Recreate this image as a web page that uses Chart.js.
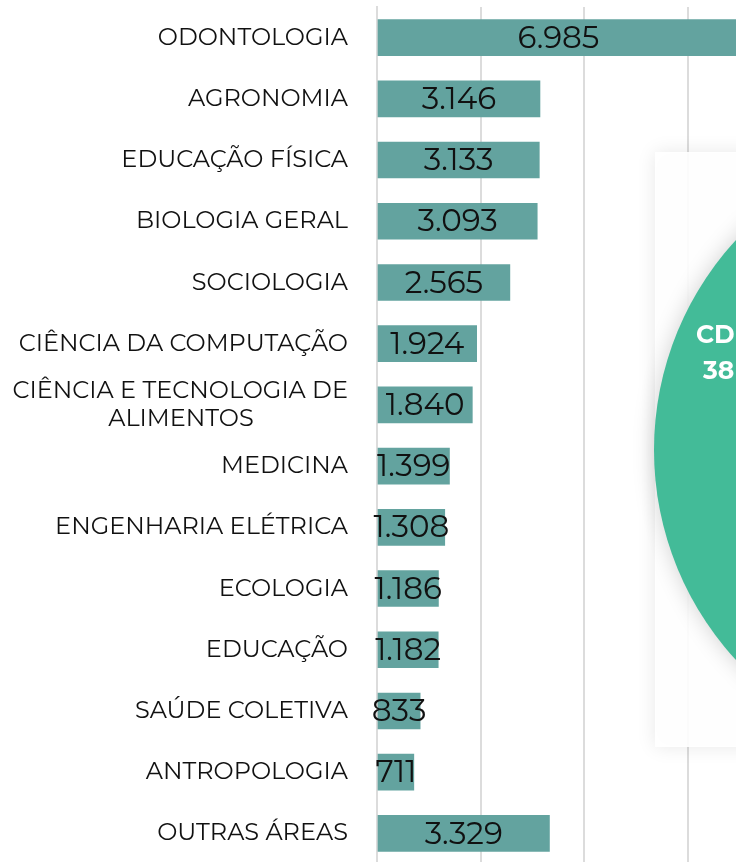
<!DOCTYPE html>
<html>
<head>
	<meta charset="utf-8">
	<title>Áreas</title>
	<style>
		html, body { margin: 0; padding: 0; background: #fff; overflow: hidden; }
		.wrap { position: relative; width: 736px; height: 864px; }
	</style>
</head>
<body>
	<div class="wrap"><canvas id="chart"></canvas></div>
	<script src="https://cdn.jsdelivr.net/npm/chart.js@4/dist/chart.umd.min.js"></script>
	<script>
		'use strict'

		const areas = [
			'ODONTOLOGIA', 'AGRONOMIA', 'EDUCAÇÃO FÍSICA', 'BIOLOGIA GERAL', 'SOCIOLOGIA',
			'CIÊNCIA DA COMPUTAÇÃO', ['CIÊNCIA E TECNOLOGIA DE', 'ALIMENTOS'], 'MEDICINA',
			'ENGENHARIA ELÉTRICA', 'ECOLOGIA', 'EDUCAÇÃO', 'SAÚDE COLETIVA', 'ANTROPOLOGIA', 'OUTRAS ÁREAS'
		]
		const totals = [6985, 3146, 3133, 3093, 2565, 1924, 1840, 1399, 1308, 1186, 1182, 833, 711, 3329]
		const xTicks = [0, 2000, 4000, 6000]
		const badgeLines = ['CD', '38']

		const barColor = '#63a39f'
		const gridColor = '#dcdcdc'
		const fontFam = "Montserrat, 'Open Sans', sans-serif"

		// "ALIMENTOS" is centred under the first line in the original
		const padLine = (s, n) => s + '\u00a0'.repeat(n)
		areas[6] = [areas[6][0], padLine(areas[6][1], 15)]

		const valueLabels = {
			id: 'valueLabels',
			afterDatasetsDraw(chart) {
				const ctx = chart.ctx
				const meta = chart.getDatasetMeta(0)
				ctx.save()
				ctx.font = '400 31px ' + fontFam
				ctx.fillStyle = '#111'
				ctx.textAlign = 'center'
				ctx.textBaseline = 'middle'
				meta.data.forEach((bar, i) => {
					const x = (bar.base + bar.x) / 2
					ctx.fillText(totals[i].toLocaleString('pt-BR'), x, bar.y + 1)
				})
				ctx.restore()
			}
		}

		// the green badge that sits over the right edge of the chart
		const badge = {
			id: 'badge',
			afterDraw(chart) {
				const ctx = chart.ctx
				ctx.save()
				ctx.shadowColor = 'rgba(0,0,0,0.10)'
				ctx.shadowBlur = 18
				ctx.fillStyle = 'rgba(255,255,255,0.92)'
				ctx.fillRect(655, 152, 200, 595)
				ctx.shadowColor = 'rgba(0,0,0,0.18)'
				ctx.shadowBlur = 22
				ctx.fillStyle = '#43bb98'
				ctx.beginPath()
				ctx.arc(964, 450, 310, 0, 2 * Math.PI)
				ctx.fill()
				ctx.shadowColor = 'transparent'
				ctx.fillStyle = '#fff'
				ctx.font = "700 25px " + fontFam
				ctx.textBaseline = 'middle'
				ctx.fillText(badgeLines[0], 696, 336)
				ctx.fillText(badgeLines[1], 703, 372)
				ctx.restore()
			}
		}

		new Chart(document.getElementById('chart'), {
			type: 'bar',
			data: {
				labels: areas,
				datasets: [{
					data: totals,
					backgroundColor: barColor,
					barThickness: 36
				}]
			},
			options: {
				indexAxis: 'y',
				responsive: true,
				maintainAspectRatio: false,
				animation: false,
				layout: { padding: { top: 7, left: 0, right: 0, bottom: 0 } },
				plugins: { legend: { display: false }, tooltip: { enabled: false } },
				scales: {
					x: {
						min: 0,
						max: 6930,
						afterBuildTicks: scale => { scale.ticks = xTicks.map(v => ({ value: v })) },
						afterFit: scale => {
							scale.height = 0
							scale.paddingLeft = 0
							scale.paddingRight = 0
						},
						ticks: { display: false },
						grid: { color: gridColor, lineWidth: 2, drawTicks: false },
						border: { display: false }
					},
					y: {
						afterFit: scale => {
							scale.width = 377
							scale.paddingTop = 0
							scale.paddingBottom = 0
						},
						ticks: {
							autoSkip: false,
							padding: 29,
							color: '#111',
							font: { family: fontFam, size: 24, weight: 400, lineHeight: 1.2 }
						},
						grid: { display: false, drawTicks: false },
						border: { color: gridColor, width: 2 }
					}
				}
			},
			plugins: [valueLabels, badge]
		})
	</script>
</body>
</html>
